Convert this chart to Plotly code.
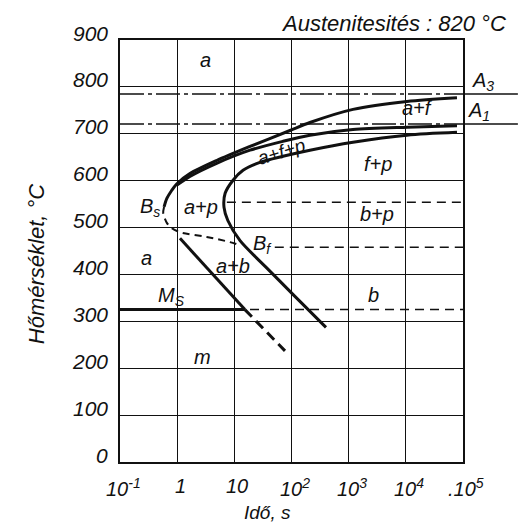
import math
import plotly.graph_objects as go

# --- Isothermal transformation (TTT) diagram data: time in s, temperature in °C ---
ferrite_start_t = [78500, 10470, 1190, 210, 94, 18.8, 4.9, 1.67, 0.98, 0.80, 0.66, 0.59]
ferrite_start_T = [777, 769, 752, 724, 707, 673, 643, 615, 593, 579, 562, 544]

pearlite_start_t = [78500, 10470, 1190, 210, 71, 18.8, 4.9, 1.67, 0.98]
pearlite_start_T = [717, 714, 709, 697, 684, 665, 637, 609, 590]

finish_t = [78500, 10470, 1190, 210, 71, 28.1, 14.2, 9.5, 6.9, 6.6, 7.7, 12.6, 36.8, 107, 401]
finish_T = [703, 697, 682, 665, 652, 639, 622, 601, 573, 543, 515, 472, 414, 357, 287]

bs_dashed_t = [0.59, 0.57, 0.66, 0.80, 1.12, 3.29, 8.4, 12.6]
bs_dashed_T = [544, 531, 510, 499, 490, 480, 469, 462]

bainite_solid_t = [1.12, 15.3]
bainite_solid_T = [477, 325]
bainite_dashed_t = [15.3, 76.9]
bainite_dashed_T = [325, 237]

Ms_T = 325
Ms_end_t = 15.3
A3_T = 785
A1_T = 721

iso_lines = [(554, 7.4), (458, 51), (325, 18.8)]  # (temperature, start time)

x_tickvals = [0.1, 1, 10, 100, 1000, 10000, 100000]
x_ticktext = ["10<sup>-1</sup>", "1", "10", "10<sup>2</sup>", "10<sup>3</sup>",
              "10<sup>4</sup>", ".10<sup>5</sup>"]
y_tickvals = [0, 100, 200, 300, 400, 500, 600, 700, 800, 900]

region_labels = [
    ("a", 3.19, 858), ("a", 0.285, 436), ("a+f", 15700, 754),
    ("f+p", 3260, 636), ("b+p", 3130, 528), ("b", 2770, 357),
    ("a+p", 2.61, 543), ("B<sub>s</sub>", 0.335, 543), ("a+b", 9.5, 417),
    ("M<sub>S</sub>", 0.8, 353), ("m", 2.83, 225), ("B<sub>f</sub>", 30.5, 463),
]

FONT = "Liberation Sans"
BLACK = "#111111"

fig = go.Figure()

def curve(t, T, width=3, dash="solid", shape="spline"):
    fig.add_trace(go.Scatter(x=t, y=T, mode="lines", hoverinfo="skip",
                             line=dict(color=BLACK, width=width, dash=dash,
                                       shape=shape, smoothing=0.8),
                             showlegend=False))

curve(ferrite_start_t, ferrite_start_T)
curve(pearlite_start_t, pearlite_start_T)
curve(finish_t, finish_T)
curve(bs_dashed_t, bs_dashed_T, width=2, dash="7px,5px")
curve(bainite_solid_t, bainite_solid_T, shape="linear")
curve(bainite_dashed_t, bainite_dashed_T, width=3, dash="10px,6px", shape="linear")
curve([0.1, Ms_end_t], [Ms_T, Ms_T], shape="linear")

for T, t0 in iso_lines:
    curve([t0, 100000], [T, T], width=1.5, dash="9px,6px", shape="linear")

# critical temperatures A3 and A1: dash-dot inside, solid beyond the frame
for T in (A3_T, A1_T):
    fig.add_shape(type="line", xref="paper", yref="y", x0=0, x1=1, y0=T, y1=T,
                  line=dict(color=BLACK, width=1.5, dash="24px,4px,4px,4px"))
    fig.add_shape(type="line", xref="paper", yref="y", x0=1, x1=1.16, y0=T, y1=T,
                  line=dict(color=BLACK, width=1.5))

ann = []
lab_font = dict(family=FONT, size=20, color=BLACK, style="italic")
for text, t, T in region_labels:
    ann.append(dict(x=math.log10(t), y=T, xref="x", yref="y", text=text,
                    showarrow=False, font=lab_font, xanchor="center", yanchor="middle"))
ann.append(dict(x=math.log10(68), y=663, xref="x", yref="y", text="a+f+p",
                showarrow=False,
                font=dict(family=FONT, size=19, color=BLACK, style="italic"),
                textangle=-17))
ann.append(dict(x=1.095, y=812, xref="paper", yref="y", text="A<sub>3</sub>",
                showarrow=False, font=lab_font))
ann.append(dict(x=1.085, y=748, xref="paper", yref="y", text="A<sub>1</sub>",
                showarrow=False, font=lab_font))

for v in y_tickvals:
    ann.append(dict(x=-0.03, y=v, xref="paper", yref="y", text=str(v),
                    showarrow=False, xanchor="right", yanchor="middle", yshift=7,
                    font=dict(family=FONT, size=21, color=BLACK, style="italic")))
for v, txt in zip(x_tickvals, x_ticktext):
    ann.append(dict(x=math.log10(v), y=0, xref="x", yref="paper", text=txt,
                    showarrow=False, xanchor="center", yanchor="top", yshift=-11,
                    xshift=3, font=lab_font))

ann.append(dict(x=0.43, y=-0.119, xref="paper", yref="paper", text="Idő, s",
                showarrow=False, xanchor="center", yanchor="middle",
                font=dict(family=FONT, size=19, color=BLACK, style="italic")))
ann.append(dict(x=-0.245, y=0.471, xref="paper", yref="paper", text="Hőmérséklet, °C",
                showarrow=False, textangle=-90, xanchor="center", yanchor="middle",
                font=dict(family=FONT, size=22, color=BLACK, style="italic")))
ann.append(dict(x=1.13, y=1.04, xref="paper", yref="paper",
                text="Austenitesités : 820 °C", showarrow=False,
                xanchor="right", yanchor="middle",
                font=dict(family=FONT, size=22, color=BLACK, style="italic")))

fig.update_layout(
    width=518, height=526,
    margin=dict(l=120, r=55, t=40, b=64),
    paper_bgcolor="white", plot_bgcolor="white",
    annotations=ann,
    xaxis=dict(type="log", range=[-1, 5], tickvals=x_tickvals, showticklabels=False,
               showgrid=True, gridcolor=BLACK, gridwidth=1.2, zeroline=False,
               showline=True, linecolor=BLACK, linewidth=1.5, mirror=True, ticks=""),
    yaxis=dict(range=[0, 900], tickvals=y_tickvals, showticklabels=False,
               showgrid=True, gridcolor=BLACK, gridwidth=1.2, zeroline=False,
               showline=True, linecolor=BLACK, linewidth=1.5, mirror=True, ticks=""),
)

fig.write_html("out.html")
